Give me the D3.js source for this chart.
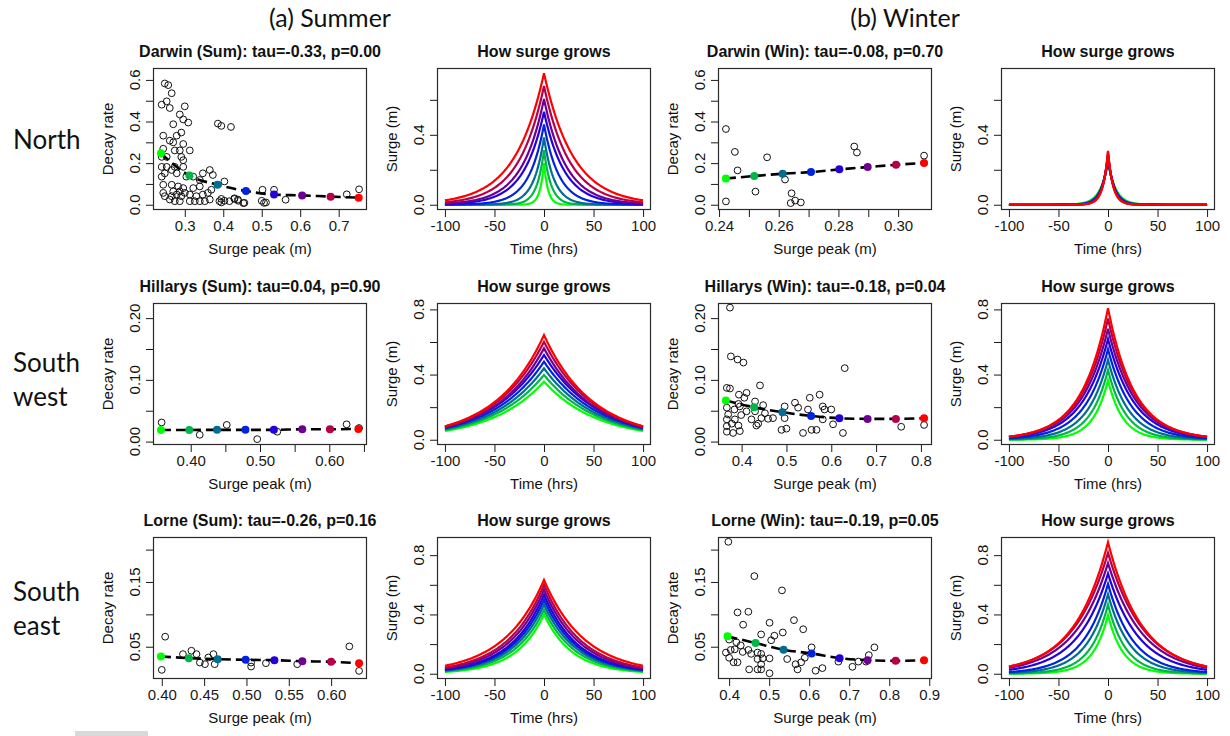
<!DOCTYPE html>
<html>
<head>
<meta charset="utf-8">
<script src="https://cdn.jsdelivr.net/npm/d3@7"></script>
<style>
  body { margin: 0; background: #fff; }
  svg { display: block; font-family: "Liberation Sans", Arial, sans-serif; }
</style>
</head>
<body>
<svg id="chart"></svg>
<script>
// ---------------- data ----------------
const seasonHeaders = ["(a) Summer", "(b) Winter"];
const regionLabels = [["North"], ["South", "west"], ["South", "east"]];
const scatterTitles = [
    ["Darwin (Sum): tau=-0.33, p=0.00", "Darwin (Win): tau=-0.08, p=0.70"],
    ["Hillarys (Sum): tau=0.04, p=0.90", "Hillarys (Win): tau=-0.18, p=0.04"],
    ["Lorne (Sum): tau=-0.26, p=0.16", "Lorne (Win): tau=-0.19, p=0.05"]
];
const growthTitle = "How surge grows";

// each event: [surge peak (m), decay rate]
const darwinSumPoints = [
    [0.248,0.583],[0.257,0.575],[0.266,0.536],[0.253,0.497],[0.240,0.481],[0.261,0.465],[0.300,0.473],
    [0.287,0.434],[0.296,0.410],[0.309,0.395],[0.270,0.387],[0.386,0.390],[0.395,0.379],[0.420,0.374],
    [0.291,0.347],[0.279,0.332],[0.244,0.332],[0.261,0.308],[0.270,0.300],[0.296,0.292],[0.287,0.261],
    [0.313,0.261],[0.274,0.261],[0.244,0.269],[0.240,0.230],[0.253,0.230],[0.291,0.230],[0.296,0.214],
    [0.240,0.182],[0.253,0.182],[0.266,0.167],[0.274,0.182],[0.296,0.182],[0.248,0.151],[0.240,0.135],
    [0.279,0.151],[0.304,0.135],[0.322,0.135],[0.339,0.119],[0.365,0.167],[0.347,0.151],[0.373,0.143],
    [0.403,0.112],[0.244,0.096],[0.266,0.096],[0.283,0.088],[0.296,0.080],[0.270,0.064],[0.287,0.064],
    [0.322,0.080],[0.339,0.088],[0.369,0.072],[0.244,0.057],[0.248,0.041],[0.266,0.041],[0.279,0.049],
    [0.291,0.041],[0.300,0.057],[0.313,0.049],[0.330,0.041],[0.347,0.049],[0.360,0.057],[0.261,0.025],
    [0.274,0.017],[0.287,0.017],[0.313,0.017],[0.326,0.017],[0.339,0.017],[0.352,0.017],[0.365,0.025],
    [0.390,0.017],[0.395,0.028],[0.416,0.017],[0.429,0.028],[0.438,0.025],[0.455,0.009],[0.506,0.009],
    [0.502,0.072],[0.532,0.072],[0.500,0.019],[0.511,0.011],[0.562,0.024],[0.721,0.050],[0.753,0.074],
    [0.403,0.019],[0.395,0.011],[0.429,0.031],[0.439,0.019],[0.452,0.008]
];
const darwinSumFitPeak = [0.238, 0.312, 0.385, 0.459, 0.532, 0.605, 0.679, 0.752];
const darwinSumFitRate = [0.247, 0.140, 0.096, 0.066, 0.049, 0.045, 0.039, 0.034];

const darwinWinPoints = [
    [0.2423,0.364],[0.2453,0.254],[0.2462,0.165],[0.2423,0.016],[0.2522,0.063],[0.2561,0.228],
    [0.2621,0.121],[0.2643,0.055],[0.2640,0.008],[0.2655,0.020],[0.2674,0.011],[0.2853,0.280],
    [0.2862,0.251],[0.3087,0.236]
];
const darwinWinFitPeak = [0.2423, 0.2518, 0.2613, 0.2708, 0.2803, 0.2898, 0.2993, 0.3087];
const darwinWinFitRate = [0.126, 0.138, 0.149, 0.157, 0.170, 0.181, 0.192, 0.201];

const hillarysSumPoints = [
    [0.358,0.031],[0.413,0.011],[0.452,0.027],[0.496,0.004],[0.525,0.016],[0.625,0.028],[0.643,0.022]
];
const hillarysSumFitPeak = [0.357, 0.398, 0.438, 0.479, 0.520, 0.561, 0.601, 0.642];
const hillarysSumFitRate = [0.0189, 0.0189, 0.0190, 0.0190, 0.0190, 0.0200, 0.0200, 0.0205];

const hillarysWinPoints = [
    [0.374,0.217],[0.376,0.138],[0.391,0.133],[0.404,0.128],[0.367,0.087],[0.374,0.086],[0.441,0.091],
    [0.394,0.076],[0.411,0.079],[0.406,0.071],[0.393,0.061],[0.430,0.065],[0.448,0.059],[0.367,0.055],
    [0.396,0.057],[0.384,0.052],[0.370,0.044],[0.399,0.043],[0.411,0.049],[0.430,0.049],[0.452,0.046],
    [0.367,0.036],[0.385,0.036],[0.422,0.036],[0.444,0.038],[0.459,0.037],[0.470,0.038],[0.437,0.029],
    [0.433,0.026],[0.378,0.029],[0.393,0.026],[0.367,0.025],[0.367,0.016],[0.381,0.014],[0.396,0.017],
    [0.496,0.057],[0.496,0.038],[0.519,0.063],[0.526,0.055],[0.548,0.052],[0.552,0.071],[0.574,0.076],
    [0.581,0.057],[0.585,0.052],[0.600,0.052],[0.581,0.036],[0.604,0.028],[0.489,0.019],[0.500,0.021],
    [0.537,0.014],[0.556,0.019],[0.567,0.019],[0.630,0.119],[0.626,0.014],[0.756,0.024],[0.807,0.027]
];
const hillarysWinFitPeak = [0.365, 0.428, 0.491, 0.555, 0.618, 0.681, 0.744, 0.807];
const hillarysWinFitRate = [0.0665, 0.0557, 0.0476, 0.0416, 0.0378, 0.0368, 0.0368, 0.0378];

const lorneSumPoints = [
    [0.404,0.0655],[0.400,0.0143],[0.425,0.0386],[0.435,0.0438],[0.441,0.0386],[0.445,0.0256],
    [0.451,0.0231],[0.455,0.0334],[0.461,0.0386],[0.4625,0.0231],[0.5055,0.0256],[0.5055,0.0194],
    [0.523,0.0246],[0.560,0.0231],[0.6215,0.0505],[0.633,0.0127]
];
const lorneSumFitPeak = [0.399, 0.432, 0.466, 0.499, 0.533, 0.566, 0.600, 0.633];
const lorneSumFitRate = [0.0350, 0.0324, 0.0308, 0.0298, 0.0293, 0.0277, 0.0267, 0.0246];

const lorneWinPoints = [
    [0.398,0.212],[0.463,0.159],[0.532,0.137],[0.421,0.103],[0.448,0.104],[0.435,0.084],[0.501,0.087],
    [0.562,0.091],[0.585,0.077],[0.534,0.072],[0.513,0.067],[0.480,0.069],[0.505,0.060],[0.400,0.061],
    [0.418,0.057],[0.429,0.052],[0.414,0.046],[0.404,0.045],[0.392,0.041],[0.400,0.033],[0.434,0.042],
    [0.448,0.045],[0.471,0.041],[0.480,0.039],[0.471,0.031],[0.455,0.039],[0.484,0.032],[0.501,0.032],
    [0.411,0.026],[0.421,0.026],[0.450,0.015],[0.471,0.015],[0.480,0.023],[0.480,0.015],[0.501,0.009],
    [0.545,0.031],[0.566,0.023],[0.571,0.015],[0.580,0.026],[0.589,0.033],[0.606,0.049],[0.616,0.013],
    [0.633,0.017],[0.673,0.027],[0.708,0.019],[0.723,0.027],[0.742,0.027],[0.749,0.037],[0.763,0.049]
];
const lorneWinFitPeak = [0.396, 0.466, 0.536, 0.606, 0.676, 0.746, 0.816, 0.887];
const lorneWinFitRate = [0.0660, 0.0557, 0.0453, 0.0396, 0.0324, 0.0293, 0.0282, 0.0293];

// decay-rate limits shared by both seasons of a station
const darwinRateLim = [0, 0.632];
const hillarysRateLim = [0.003, 0.216];
const lorneRateLim = [0.0083, 0.2113];

// tick values and labels (blank = tick without label, as R drops crowded labels)
const darwinSumXTicks = [0.3, 0.4, 0.5, 0.6, 0.7];
const darwinSumXLabels = ["0.3", "0.4", "0.5", "0.6", "0.7"];
const darwinWinXTicks = [0.24, 0.25, 0.26, 0.27, 0.28, 0.29, 0.30];
const darwinWinXLabels = ["0.24", "", "0.26", "", "0.28", "", "0.30"];
const hillarysSumXTicks = [0.40, 0.45, 0.50, 0.55, 0.60, 0.65];
const hillarysSumXLabels = ["0.40", "", "0.50", "", "0.60", ""];
const hillarysWinXTicks = [0.4, 0.5, 0.6, 0.7, 0.8];
const hillarysWinXLabels = ["0.4", "0.5", "0.6", "0.7", "0.8"];
const lorneSumXTicks = [0.40, 0.45, 0.50, 0.55, 0.60];
const lorneSumXLabels = ["0.40", "0.45", "0.50", "0.55", "0.60"];
const lorneWinXTicks = [0.4, 0.5, 0.6, 0.7, 0.8, 0.9];
const lorneWinXLabels = ["0.4", "0.5", "0.6", "0.7", "0.8", "0.9"];

const darwinRateTicks = [0, 0.1, 0.2, 0.3, 0.4, 0.5, 0.6];
const darwinRateLabels = ["0.0", "", "0.2", "", "0.4", "", "0.6"];
const hillarysRateTicks = [0, 0.05, 0.10, 0.15, 0.20];
const hillarysRateLabels = ["0.00", "", "0.10", "", "0.20"];
const lorneRateTicks = [0.05, 0.10, 0.15, 0.20];
const lorneRateLabels = ["0.05", "", "0.15", ""];

const hourTicks = [-100, -50, 0, 50, 100];
const hourLabels = ["-100", "-50", "0", "50", "100"];
const hourLim = [-100, 100];
const darwinSurgeTicks = [0, 0.2, 0.4, 0.6];
const darwinSurgeLabels = ["0.0", "", "0.4", ""];
const otherSurgeTicks = [0, 0.2, 0.4, 0.6, 0.8];
const otherSurgeLabels = ["0.0", "", "0.4", "", "0.8"];

// ---------------- layout ----------------
const width = 1230;
const height = 736;
const colLeft = [153, 437, 718, 1001];
const rowTop = [68, 303, 537];
const plotW = 214;
const plotH = 142;
const labelSize = 15;

const rampColor = d3.scaleLinear()
    .domain([0, 3.5, 7])
    .range(["#00ff00", "#0000ff", "#ff0000"])
    .interpolate(d3.interpolateRgb);

const padRange = ([a, b]) => [a - 0.04 * (b - a), b + 0.04 * (b - a)];

const svg = d3.select("#chart")
    .attr("width", width)
    .attr("height", height);

svg.append("rect").attr("width", width).attr("height", height).attr("fill", "#fff");

const rows = [
    {
        rateLim: darwinRateLim, rateTicks: darwinRateTicks, rateLabels: darwinRateLabels,
        surgeTicks: darwinSurgeTicks, surgeLabels: darwinSurgeLabels,
        seasons: [
            { points: darwinSumPoints, peak: darwinSumFitPeak, rate: darwinSumFitRate, xTicks: darwinSumXTicks, xLabels: darwinSumXLabels },
            { points: darwinWinPoints, peak: darwinWinFitPeak, rate: darwinWinFitRate, xTicks: darwinWinXTicks, xLabels: darwinWinXLabels }
        ]
    },
    {
        rateLim: hillarysRateLim, rateTicks: hillarysRateTicks, rateLabels: hillarysRateLabels,
        surgeTicks: otherSurgeTicks, surgeLabels: otherSurgeLabels,
        seasons: [
            { points: hillarysSumPoints, peak: hillarysSumFitPeak, rate: hillarysSumFitRate, xTicks: hillarysSumXTicks, xLabels: hillarysSumXLabels },
            { points: hillarysWinPoints, peak: hillarysWinFitPeak, rate: hillarysWinFitRate, xTicks: hillarysWinXTicks, xLabels: hillarysWinXLabels }
        ]
    },
    {
        rateLim: lorneRateLim, rateTicks: lorneRateTicks, rateLabels: lorneRateLabels,
        surgeTicks: otherSurgeTicks, surgeLabels: otherSurgeLabels,
        seasons: [
            { points: lorneSumPoints, peak: lorneSumFitPeak, rate: lorneSumFitRate, xTicks: lorneSumXTicks, xLabels: lorneSumXLabels },
            { points: lorneWinPoints, peak: lorneWinFitPeak, rate: lorneWinFitRate, xTicks: lorneWinXTicks, xLabels: lorneWinXLabels }
        ]
    }
];


function drawAxes(g, x, y, xTicks, xLabels, yTicks, yLabels, title, xTitle, yTitle) {
    g.append("g")
        .attr("transform", `translate(0,${plotH})`)
        .call(d3.axisBottom(x)
            .tickValues(xTicks)
            .tickSize(7)
            .tickPadding(3)
            .tickFormat((d, i) => xLabels[i]))
        .call(a => a.select(".domain").remove())
        .attr("font-family", null)
        .attr("font-size", labelSize)
        .style("color", "#1a1a1a");

    g.append("g")
        .call(d3.axisLeft(y)
            .tickValues(yTicks)
            .tickSize(7)
            .tickFormat(""))
        .call(a => a.select(".domain").remove())
        .style("color", "#1a1a1a");

    g.selectAll(".ylab")
        .data(yTicks)
        .enter().append("text")
        .attr("class", "ylab")
        .attr("transform", d => `translate(-13,${y(d)}) rotate(-90)`)
        .attr("text-anchor", "middle")
        .attr("font-size", labelSize)
        .attr("fill", "#111")
        .text((d, i) => yLabels[i]);

    g.append("rect")
        .attr("x", 0.5)
        .attr("y", 0.5)
        .attr("width", plotW - 1)
        .attr("height", plotH - 1)
        .attr("fill", "none")
        .attr("stroke", "#2a2a2a")
        .attr("stroke-width", 1.2);

    g.append("text")
        .attr("x", plotW / 2)
        .attr("y", -11)
        .attr("text-anchor", "middle")
        .attr("font-size", 16)
        .attr("font-weight", "bold")
        .attr("fill", "#111")
        .text(title);

    g.append("text")
        .attr("x", plotW / 2)
        .attr("y", plotH + 44)
        .attr("text-anchor", "middle")
        .attr("font-size", labelSize)
        .attr("fill", "#111")
        .text(xTitle);

    g.append("text")
        .attr("transform", `translate(-40,${plotH / 2}) rotate(-90)`)
        .attr("text-anchor", "middle")
        .attr("font-size", labelSize)
        .attr("fill", "#111")
        .text(yTitle);
}


rows.forEach((row, r) => {
    // surge axis of the growth panels runs to the largest fitted peak of the station
    const maxPeak = d3.max(row.seasons, s => d3.max(s.peak));

    row.seasons.forEach((season, s) => {
        const fit = season.peak.map((p, i) => ({ peak: p, rate: season.rate[i], i: i }));

        // ---------- scatter: decay rate vs surge peak ----------
        const gs = svg.append("g")
            .attr("transform", `translate(${colLeft[2 * s]},${rowTop[r]})`);

        const xExtent = d3.extent(season.points.map(d => d[0]).concat(season.peak));
        const x = d3.scaleLinear().domain(padRange(xExtent)).range([0, plotW]);
        const y = d3.scaleLinear().domain(padRange(row.rateLim)).range([plotH, 0]);

        drawAxes(gs, x, y, season.xTicks, season.xLabels, row.rateTicks, row.rateLabels,
            scatterTitles[r][s], "Surge peak (m)", "Decay rate");

        gs.selectAll(".event")
            .data(season.points)
            .enter().append("circle")
            .attr("class", "event")
            .attr("cx", d => x(d[0]))
            .attr("cy", d => y(d[1]))
            .attr("r", 3.4)
            .attr("fill", "none")
            .attr("stroke", "#111")
            .attr("stroke-width", 1);

        gs.append("path")
            .datum(fit)
            .attr("d", d3.line()
                .x(d => x(d.peak))
                .y(d => y(d.rate))
                .curve(d3.curveMonotoneX))
            .attr("fill", "none")
            .attr("stroke", "#000")
            .attr("stroke-width", 2.6)
            .attr("stroke-dasharray", "10,5");

        gs.selectAll(".fit")
            .data(fit)
            .enter().append("circle")
            .attr("class", "fit")
            .attr("cx", d => x(d.peak))
            .attr("cy", d => y(d.rate))
            .attr("r", 4)
            .attr("fill", d => rampColor(d.i));

        // ---------- growth: peak * exp(-rate * |t|) for each fitted pair ----------
        const gl = svg.append("g")
            .attr("transform", `translate(${colLeft[2 * s + 1]},${rowTop[r]})`);

        const xt = d3.scaleLinear().domain(padRange(hourLim)).range([0, plotW]);
        const ys = d3.scaleLinear().domain(padRange([0, maxPeak])).range([plotH, 0]);

        drawAxes(gl, xt, ys, hourTicks, hourLabels, row.surgeTicks, row.surgeLabels,
            growthTitle, "Time (hrs)", "Surge (m)");

        const hours = d3.range(hourLim[0], hourLim[1] + 1, 1);

        gl.selectAll(".growth")
            .data(fit)
            .enter().append("path")
            .attr("class", "growth")
            .attr("d", d => d3.line()
                .x(h => xt(h))
                .y(h => ys(d.peak * Math.exp(-d.rate * Math.abs(h))))(hours))
            .attr("fill", "none")
            .attr("stroke", d => rampColor(d.i))
            .attr("stroke-width", 2.2);
    });
});

// ---------------- headers and region labels ----------------
svg.selectAll(".season")
    .data(seasonHeaders)
    .enter().append("text")
    .attr("class", "season")
    .attr("x", (d, i) => i === 0 ? 330 : 905)
    .attr("y", 27)
    .attr("text-anchor", "middle")
    .attr("font-family", "Lato, 'Open Sans', sans-serif")
    .attr("font-size", 25)
    .attr("fill", "#111")
    .text(d => d);

const regionY = [149, 372, 601];
regionLabels.forEach((lines, r) => {
    svg.append("text")
        .attr("x", 13)
        .attr("y", regionY[r])
        .attr("font-family", "Lato, 'Open Sans', sans-serif")
        .attr("font-size", 26)
        .attr("fill", "#111")
        .selectAll("tspan")
        .data(lines)
        .enter().append("tspan")
        .attr("x", 13)
        .attr("dy", (d, i) => i === 0 ? 0 : 34)
        .text(d => d);
});

// light grey strip in the lower-left corner of the original
svg.append("rect")
    .attr("x", 75)
    .attr("y", 731)
    .attr("width", 73)
    .attr("height", 5)
    .attr("fill", "#d9d9d9");
</script>
</body>
</html>
